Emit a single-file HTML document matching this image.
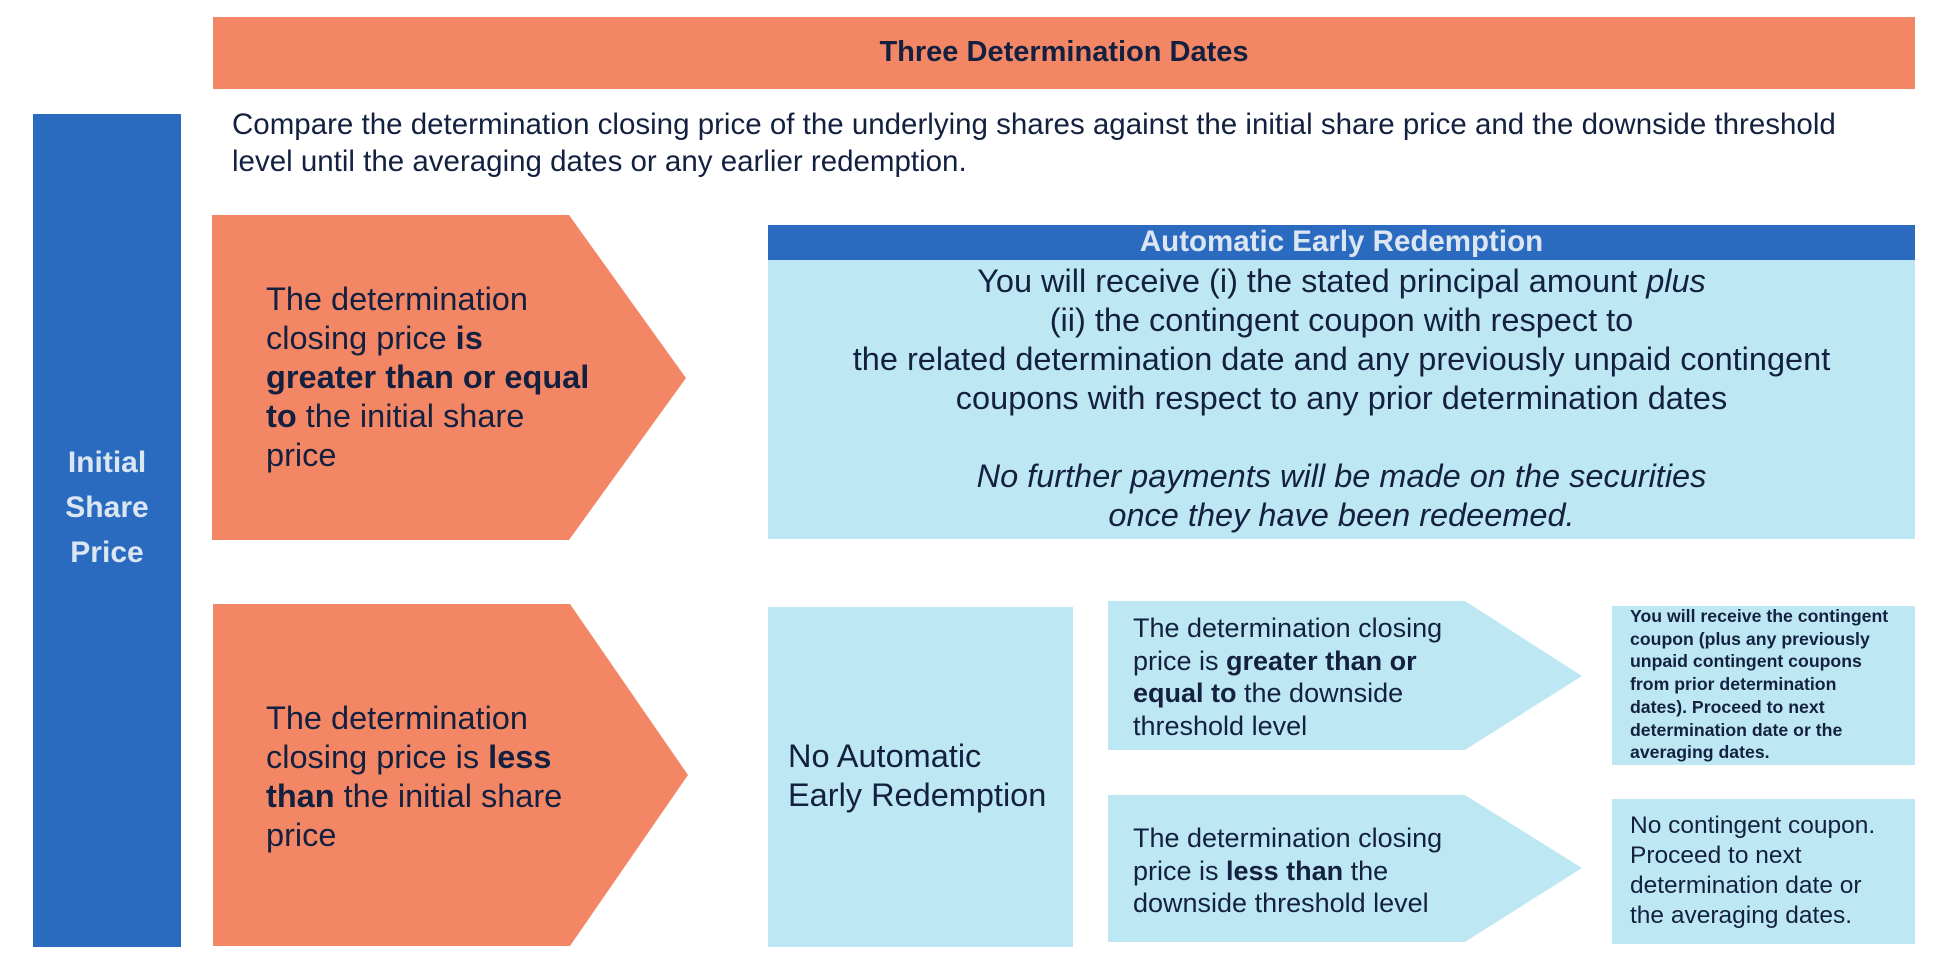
<!DOCTYPE html>
<html><head><meta charset="utf-8"><style>
body{margin:0;width:1960px;height:978px;background:#fff;position:relative;overflow:hidden;font-family:"Liberation Sans",Arial,sans-serif;color:#13203f}
.a{position:absolute}
.t{position:absolute;white-space:nowrap}
b{font-weight:bold}
</style></head><body>
<svg class="a" style="left:0;top:0" width="1960" height="978">
<rect x="213" y="17" width="1702" height="72" fill="#f38664"/>
<rect x="33" y="114" width="148" height="833" fill="#2b6bbf"/>
<polygon points="212,215 569,215 686,378 569,540 212,540" fill="#f38664"/>
<polygon points="213,604 570,604 688,775 570,946 213,946" fill="#f38664"/>
<rect x="768" y="225" width="1147" height="35" fill="#2b6bbf"/>
<rect x="768" y="260" width="1147" height="279" fill="#bde7f2"/>
<rect x="768" y="607" width="305" height="340" fill="#bde7f2"/>
<polygon points="1108,601 1465,601 1582,676 1465,750 1108,750" fill="#bde7f2"/>
<polygon points="1108,795 1465,795 1582,868 1465,942 1108,942" fill="#bde7f2"/>
<rect x="1612" y="606" width="303" height="159" fill="#bde7f2"/>
<rect x="1612" y="799" width="303" height="145" fill="#bde7f2"/>
</svg>
<div class="t" style="left:213px;width:1702px;top:34px;text-align:center;font-size:29px;font-weight:bold;line-height:36px">Three Determination Dates</div>
<div class="t" style="left:232px;top:106px;font-size:29.5px;line-height:37px">Compare the determination closing price of the underlying shares against the initial share price and the downside threshold<br>level until the averaging dates or any earlier redemption.</div>
<div class="t" style="left:33px;width:148px;top:440px;text-align:center;font-size:30px;font-weight:bold;line-height:45px;color:#dbe6f3">Initial<br>Share<br>Price</div>
<div class="t" style="left:266px;top:280px;font-size:32.5px;line-height:39px">The determination<br>closing price <b>is</b><br><b>greater than or equal</b><br><b>to</b> the initial share<br>price</div>
<div class="t" style="left:266px;top:699px;font-size:32.5px;line-height:39px">The determination<br>closing price is <b>less</b><br><b>than</b> the initial share<br>price</div>
<div class="t" style="left:768px;width:1147px;top:224px;text-align:center;font-size:29.5px;font-weight:bold;line-height:36px;color:#dce6f2">Automatic Early Redemption</div>
<div class="t" style="left:768px;width:1147px;top:262px;text-align:center;font-size:32.5px;line-height:39px">You will receive (i) the stated principal amount <i>plus</i><br>(ii) the contingent coupon with respect to<br>the related determination date and any previously unpaid contingent<br>coupons with respect to any prior determination dates<br>&nbsp;<br><i>No further payments will be made on the securities<br>once they have been redeemed.</i></div>
<div class="t" style="left:788px;top:737px;font-size:32.5px;line-height:39px">No Automatic<br>Early Redemption</div>
<div class="t" style="left:1133px;top:612px;font-size:27px;line-height:32.5px">The determination closing<br>price is <b>greater than or</b><br><b>equal to</b> the downside<br>threshold level</div>
<div class="t" style="left:1133px;top:822px;font-size:27px;line-height:32.5px">The determination closing<br>price is <b>less than</b> the<br>downside threshold level</div>
<div class="t" style="left:1630px;top:605px;font-size:17.7px;font-weight:bold;line-height:22.7px">You will receive the contingent<br>coupon (plus any previously<br>unpaid contingent coupons<br>from prior determination<br>dates). Proceed to next<br>determination date or the<br>averaging dates.</div>
<div class="t" style="left:1630px;top:811px;font-size:24.5px;line-height:30px">No contingent coupon.<br>Proceed to next<br>determination date or<br>the averaging dates.</div>
</body></html>
